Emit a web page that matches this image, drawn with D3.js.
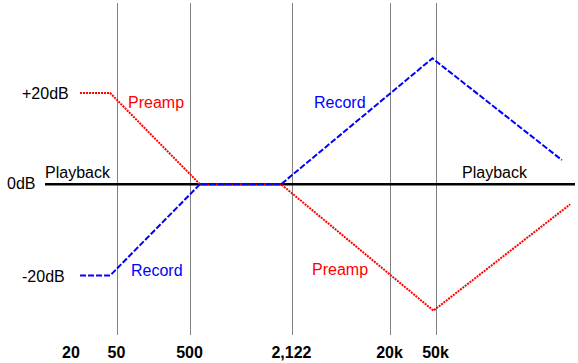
<!DOCTYPE html>
<html>
<head>
<meta charset="utf-8">
<script src="https://cdn.jsdelivr.net/npm/d3@7"></script>
<style>
	body { margin: 0; background: #fff; }
	svg { display: block; font-family: "Liberation Sans", Arial, sans-serif; }
</style>
</head>
<body>
<svg id="chart" width="578" height="363"></svg>
<script>
// frequency ticks (schematic axis) and their labels
var FREQ_TICKS = [20, 50, 500, 2122, 20000, 50000];
var TICK_LABELS = ["20", "50", "500", "2,122", "20k", "50k"];
var GRID_FREQS = [50, 500, 2122, 20000, 50000];

// level labels
var DB_TICKS = [20, 0, -20];
var DB_LABELS = ["+20dB", "0dB", "-20dB"];

// curves: frequency (Hz) and level (dB)
var RECORD_FREQ = [24, 44, 580, 1830, 47000, 620000];
var RECORD_DB   = [-20, -20, 0, 0, 27.6, 5.3];
var PREAMP_FREQ = [24, 44, 580, 1830, 48000, 730000];
var PREAMP_DB   = [20, 20, 0, 0, -27.7, -4.4];

var svg = d3.select("#chart");

// x is not a true log axis, the picture is a sketch: piecewise over log10(f)
var x = d3.scaleLinear()
	.domain(FREQ_TICKS.map(Math.log10))
	.range([71, 116.5, 189.5, 291.5, 389.5, 435.5]);
function fx(f) { return x(Math.log10(f)); }

var y = d3.scaleLinear().domain([-20, 20]).range([275.5, 93]);

// vertical grid lines
svg.append("g").selectAll("line")
	.data(GRID_FREQS)
	.enter().append("line")
	.attr("x1", function(d) { return Math.round(fx(d)) + 0.5; })
	.attr("x2", function(d) { return Math.round(fx(d)) + 0.5; })
	.attr("y1", 3)
	.attr("y2", 335)
	.attr("stroke", "#808080")
	.attr("stroke-width", 1);

// 0dB reference line
svg.append("line")
	.attr("x1", 45)
	.attr("x2", 575)
	.attr("y1", y(0))
	.attr("y2", y(0))
	.attr("stroke", "#000")
	.attr("stroke-width", 2.5);

var line = d3.line()
	.x(function(d) { return fx(d[0]); })
	.y(function(d) { return y(d[1]); });

// preamp curve (red dotted) - drawn first, record sits over it on the flat part
svg.append("path")
	.attr("d", line(d3.zip(PREAMP_FREQ, PREAMP_DB)))
	.attr("fill", "none")
	.attr("stroke", "#ff0000")
	.attr("stroke-width", 2)
	.attr("stroke-dasharray", "2,1");

// record curve (blue dashed)
svg.append("path")
	.attr("d", line(d3.zip(RECORD_FREQ, RECORD_DB)))
	.attr("fill", "none")
	.attr("stroke", "#0000ff")
	.attr("stroke-width", 2)
	.attr("stroke-dasharray", "6,2");

// level labels
svg.append("g").selectAll("text")
	.data(DB_TICKS)
	.enter().append("text")
	.attr("x", function(d) { return d === 0 ? 7 : 22; })
	.attr("y", function(d) { return y(d) + (d === 0 ? 4.5 : 6); })
	.attr("font-size", 16)
	.attr("fill", "#000")
	.text(function(d, i) { return DB_LABELS[i]; });

// frequency labels
svg.append("g").selectAll("text")
	.data(FREQ_TICKS)
	.enter().append("text")
	.attr("x", function(d) { return fx(d); })
	.attr("y", 358)
	.attr("text-anchor", "middle")
	.attr("font-size", 16)
	.attr("font-weight", "bold")
	.attr("fill", "#000")
	.text(function(d, i) { return TICK_LABELS[i]; });

// curve names
var notes = [
	{ t: "Playback", x: 45, y: 178, c: "#000" },
	{ t: "Playback", x: 462, y: 178, c: "#000" },
	{ t: "Preamp", x: 128, y: 108, c: "#ff0000" },
	{ t: "Record", x: 314, y: 108, c: "#0000ff" },
	{ t: "Record", x: 131, y: 276, c: "#0000ff" },
	{ t: "Preamp", x: 312, y: 275, c: "#ff0000" }
];
svg.append("g").selectAll("text")
	.data(notes)
	.enter().append("text")
	.attr("x", function(d) { return d.x; })
	.attr("y", function(d) { return d.y; })
	.attr("font-size", 16)
	.attr("fill", function(d) { return d.c; })
	.text(function(d) { return d.t; });
</script>
</body>
</html>
